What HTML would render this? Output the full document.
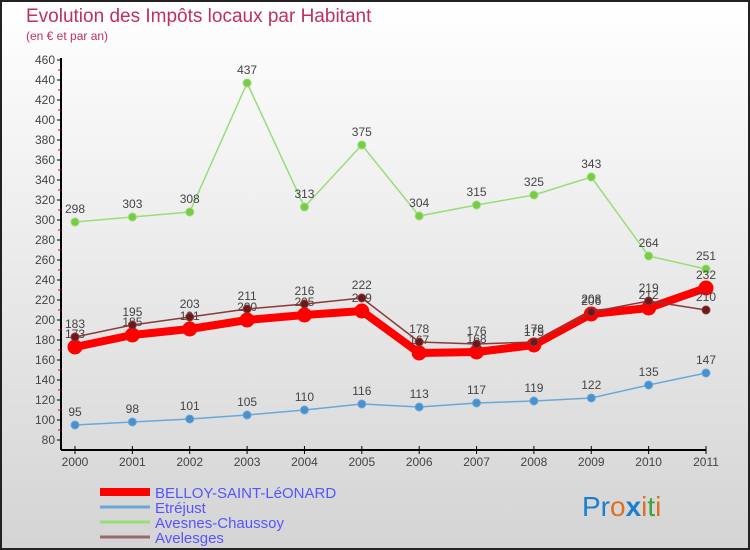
<!DOCTYPE html>
<html><head><meta charset="utf-8"><style>
body{margin:0;}
#wrap{width:750px;height:550px;position:relative;overflow:hidden;}
svg{display:block;font-family:"Liberation Sans",sans-serif;}
</style></head><body><div id="wrap">
<svg id="c" width="750" height="550" viewBox="0 0 750 550">
<defs><linearGradient id="bg" x1="0" y1="0" x2="0" y2="1"><stop offset="0" stop-color="#ffffff"/><stop offset="1" stop-color="#d4d4d4"/></linearGradient></defs>
<rect x="1" y="1" width="748" height="548" fill="url(#bg)" stroke="#222" stroke-width="2"/>
<text x="26" y="22" font-size="19" fill="#c0305a">Evolution des Impôts locaux par Habitant</text>
<text x="26" y="40" font-size="12" fill="#c0305a">(en € et par an)</text>
<g id="axes"></g><g id="series"></g><g id="legend"></g>
<text x="582" y="516" font-size="28"><tspan fill="#1a7fd0">Pr</tspan><tspan fill="#e07020">o</tspan><tspan fill="#1a7fd0" font-weight="bold">x</tspan><tspan fill="#e07020">i</tspan><tspan fill="#40a040">t</tspan><tspan fill="#e07020">i</tspan></text>
</svg></div>
<script>
const years=[2000,2001,2002,2003,2004,2005,2006,2007,2008,2009,2010,2011];
const yTicks=[80,100,120,140,160,180,200,220,240,260,280,300,320,340,360,380,400,420,440,460];
const belloy=[173,185,191,200,205,209,167,168,175,206,212,232];
const etrejust=[95,98,101,105,110,116,113,117,119,122,135,147];
const avesnes=[298,303,308,437,313,375,304,315,325,343,264,251];
const avelesges=[183,195,203,211,216,222,178,176,178,208,219,210];
const seriesNames=["BELLOY-SAINT-LéONARD","Etréjust","Avesnes-Chaussoy","Avelesges"];
const NS="http://www.w3.org/2000/svg";
function X(i){return 75+i*(706-75)/(years.length-1);}
function Y(v){return 440-(v-80)*380/380;}
function mk(t,a,p){const e=document.createElementNS(NS,t);for(const k in a)e.setAttribute(k,a[k]);p.appendChild(e);return e;}
const ax=document.getElementById('axes');
const yl=mk('line',{x1:61,y1:58,x2:61,y2:450,stroke:'#000','stroke-width':2},ax);


const xl=mk('line',{x1:61,y1:450,x2:706,y2:450,stroke:'#000','stroke-width':2},ax);


yTicks.forEach((v,k)=>{
 mk('line',{x1:57,x2:61,y1:Y(v),y2:Y(v),stroke:'#000'},ax);
 if(k<yTicks.length-1) mk('line',{x1:58,x2:61,y1:Y(v+10),y2:Y(v+10),stroke:'#e00'},ax);
 const t=mk('text',{x:55,y:Y(v)+4,'text-anchor':'end','font-size':12,fill:'#444'},ax);
 t.textContent=v;
 
 
});
years.forEach((yr,i)=>{
 mk('line',{x1:X(i),x2:X(i),y1:446,y2:454,stroke:'#000'},ax);
 const t=mk('text',{x:X(i),y:466,'text-anchor':'middle','font-size':12,fill:'#444'},ax);
 t.textContent=yr;
 
 
});
const sg=document.getElementById('series');
function draw(data,color,w,r,dot,name,labDy){
 const g=mk('g',{},sg);
 
 
 mk('polyline',{points:data.map((v,i)=>X(i)+','+Y(v)).join(' '),fill:'none',stroke:color,'stroke-width':w,'stroke-linejoin':'round'},g);
 data.forEach((v,i)=>{
  const c=mk('circle',{cx:X(i),cy:Y(v),r:r,fill:dot,stroke:color,'stroke-width':1},g);
  
  
  const t=mk('text',{x:X(i),y:Y(v)+labDy,'text-anchor':'middle','font-size':12,fill:'#444'},g);
  t.textContent=v;
  
  
 });
}
draw(avesnes,'#99dd77',1.5,4,'#77cc44','series-avesnes-chaussoy',-9);
draw(etrejust,'#6aa8d8',1.5,4,'#4a90cc','series-etrejust',-9);
draw(belloy,'#ff0000',8,7,'#ff0000','series-belloy-saint-leonard',-9);
draw(avelesges,'#8a3a3a',1.5,4,'#6a1a1a','series-avelesges',-9);
const lg=document.getElementById('legend');
const lc=['#ff0000','#6aa8d8','#99dd77','#9a6a6a'],lw=[8,3,3,3];
seriesNames.forEach((n,k)=>{
 const y=492+k*15;
 const g=mk('g',{},lg);
 
 
 mk('line',{x1:100,x2:150,y1:y,y2:y,stroke:lc[k],'stroke-width':lw[k]},g);
 const t=mk('text',{x:155,y:y+6,'font-size':15,fill:'#5555ff'},g);
 t.textContent=n;
});
</script></body></html>
